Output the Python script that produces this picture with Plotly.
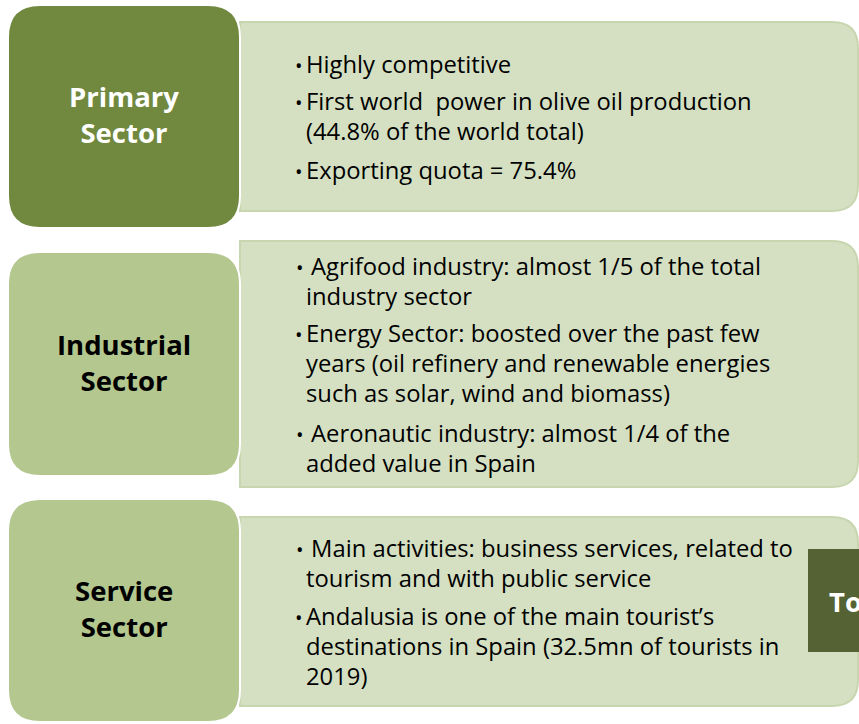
import plotly.graph_objects as go

W, H = 859, 724

sectors = ["Primary<br>Sector", "Industrial<br>Sector", "Service<br>Sector"]
sector_fill = ["#71883F", "#B3C78F", "#B3C78F"]
sector_font = ["white", "black", "black"]

# each entry: (text, is_bullet_start, extra_space)
panel1 = [("Highly competitive", True, False),
          ("First world  power in olive oil production", True, False),
          ("(44.8% of the world total)", False, False),
          ("Exporting quota = 75.4%", True, False)]
panel2 = [("Agrifood industry: almost 1/5 of the total", True, True),
          ("industry sector", False, False),
          ("Energy Sector: boosted over the past few", True, False),
          ("years (oil refinery and renewable energies", False, False),
          ("such as solar, wind and biomass)", False, False),
          ("Aeronautic industry: almost 1/4 of the", True, True),
          ("added value in Spain", False, False)]
panel3 = [("Main activities: business services, related to", True, True),
          ("tourism and with public service", False, False),
          ("Andalusia is one of the main tourist\u2019s", True, False),
          ("destinations in Spain (32.5mn of tourists in", False, False),
          ("2019)", False, False)]
panels = [panel1, panel2, panel3]
line_y = [[64, 101, 131, 170],
          [266, 296, 333, 363, 393, 433, 463],
          [548, 578, 616, 646, 676]]

# geometry (pixels)
box_x = (8, 240)
box_y = [(5, 228), (252, 476), (499, 722)]
pan_y = [(22, 211), (241, 487), (517, 706)]
pan_x = (240, 858)
FONT = "Open Sans"


def rrect(x0, y0, x1, y1, r_left, r_right):
    p = f"M {x0 + r_left},{y0} L {x1 - r_right},{y0} Q {x1},{y0} {x1},{y0 + r_right} "
    p += f"L {x1},{y1 - r_right} Q {x1},{y1} {x1 - r_right},{y1} "
    p += f"L {x0 + r_left},{y1} Q {x0},{y1} {x0},{y1 - r_left} "
    p += f"L {x0},{y0 + r_left} Q {x0},{y0} {x0 + r_left},{y0} Z"
    return p


fig = go.Figure()
shapes = []
annotations = []

for i in range(3):
    py0, py1 = pan_y[i]
    shapes.append(dict(type="path", path=rrect(pan_x[0], py0, pan_x[1], py1, 0, 26),
                       xref="x", yref="y", fillcolor="#D5E0C3",
                       line=dict(color="#C8D6B0", width=2), layer="below"))
for i in range(3):
    by0, by1 = box_y[i]
    shapes.append(dict(type="path", path=rrect(box_x[0], by0, box_x[1], by1, 32, 32),
                       xref="x", yref="y", fillcolor=sector_fill[i],
                       line=dict(color="white", width=2), layer="below"))
    annotations.append(dict(x=(box_x[0] + box_x[1]) / 2, y=(by0 + by1) / 2 - 2,
                            xref="x", yref="y", text=f"<b>{sectors[i]}</b>",
                            showarrow=False, xanchor="center", yanchor="middle",
                            font=dict(family=FONT, size=27.5, color=sector_font[i])))

# "To" box at right edge (cut off by the picture edge, as in the original)
shapes.append(dict(type="rect", x0=808, x1=862, y0=549, y1=652, xref="x", yref="y",
                   fillcolor="#556234", line=dict(color="#556234", width=0)))
annotations.append(dict(x=827, y=601, xref="x", yref="y", text="<b>To</b>",
                        showarrow=False, xanchor="left", yanchor="middle",
                        font=dict(family=FONT, size=27.5, color="white")))

for i, pan in enumerate(panels):
    for (txt, bullet, extra), y in zip(pan, line_y[i]):
        annotations.append(dict(x=304 + (5 if extra else 0), y=y, xref="x", yref="y",
                                text=txt, showarrow=False, xanchor="left", yanchor="middle",
                                font=dict(family=FONT, size=23.8, color="black")))
        if bullet:
            annotations.append(dict(x=300 if extra else 299, y=y + 1, xref="x", yref="y",
                                    text="\u2022", showarrow=False, xanchor="center",
                                    yanchor="middle",
                                    font=dict(family=FONT, size=20, color="black")))

fig.update_layout(width=W, height=H, margin=dict(l=0, r=0, t=0, b=0),
                  plot_bgcolor="white", paper_bgcolor="white",
                  xaxis=dict(range=[0, W], visible=False, fixedrange=True),
                  yaxis=dict(range=[H, 0], visible=False, fixedrange=True),
                  shapes=shapes, annotations=annotations, showlegend=False)
fig.write_html("out.html", config={"displayModeBar": False},
               post_script="document.body.style.margin='0';document.body.style.overflow='hidden';")
